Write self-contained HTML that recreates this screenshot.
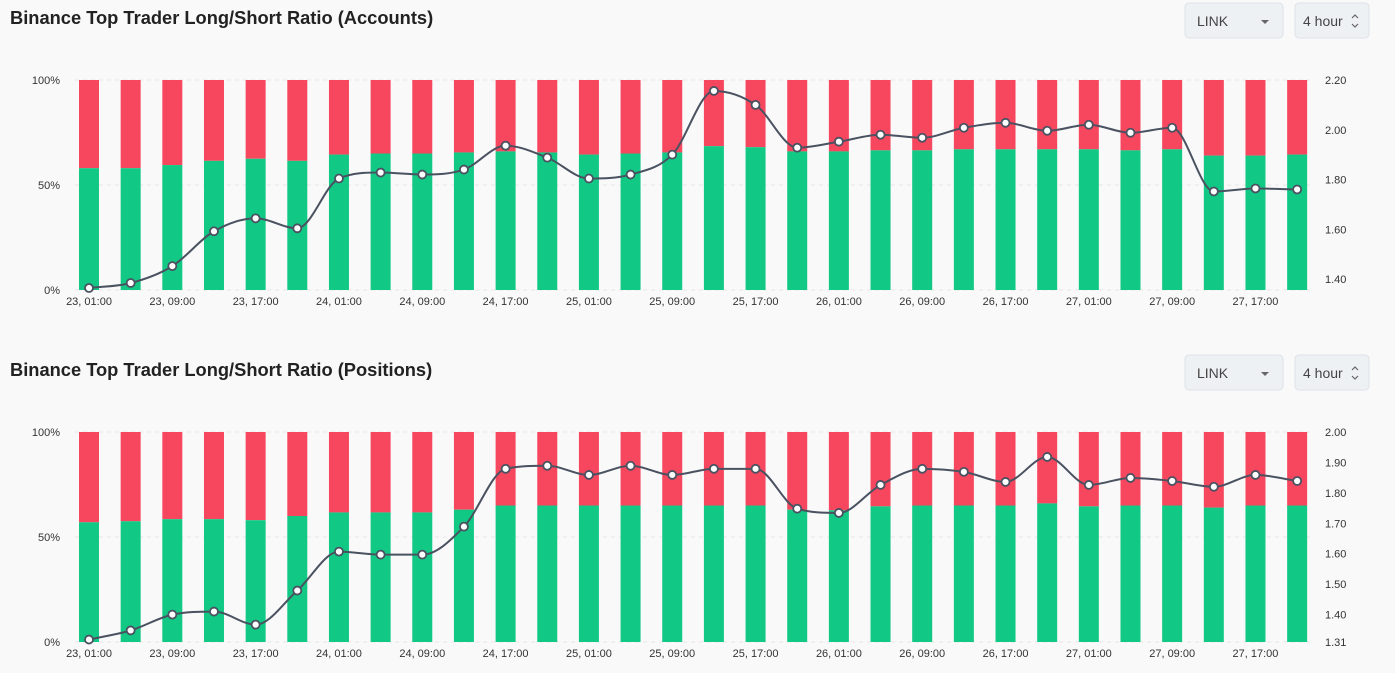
<!DOCTYPE html>
<html><head><meta charset="utf-8"><style>
body{margin:0;background:#f9f9f9;font-family:"Liberation Sans",sans-serif;}
svg{display:block}
</style></head><body>
<svg id="s" width="1395" height="673"></svg>
<script>
const labels=["23, 01:00","23, 09:00","23, 17:00","24, 01:00","24, 09:00","24, 17:00","25, 01:00","25, 09:00","25, 17:00","26, 01:00","26, 09:00","26, 17:00","27, 01:00","27, 09:00","27, 17:00"];
const longA=[0.58,0.58,0.595,0.615,0.625,0.615,0.645,0.65,0.65,0.655,0.66,0.655,0.645,0.65,0.655,0.685,0.68,0.66,0.66,0.665,0.665,0.67,0.67,0.67,0.67,0.665,0.67,0.64,0.64,0.645];
const ratioA=[1.364,1.384,1.452,1.592,1.644,1.604,1.804,1.828,1.82,1.84,1.936,1.888,1.804,1.82,1.90,2.156,2.10,1.928,1.952,1.98,1.968,2.008,2.028,1.996,2.02,1.988,2.008,1.752,1.764,1.76];
const longP=[0.57,0.575,0.585,0.585,0.58,0.60,0.617,0.617,0.617,0.63,0.65,0.65,0.65,0.65,0.65,0.65,0.65,0.63,0.627,0.646,0.65,0.65,0.65,0.66,0.646,0.65,0.65,0.64,0.65,0.65];
const ratioP=[1.318,1.348,1.40,1.41,1.367,1.479,1.607,1.597,1.597,1.689,1.879,1.889,1.859,1.889,1.859,1.879,1.879,1.748,1.734,1.826,1.879,1.869,1.836,1.918,1.826,1.849,1.839,1.82,1.859,1.839];
const ticksA=["2.20","2.00","1.80","1.60","1.40"], tickValsA=[2.2,2.0,1.8,1.6,1.4];
const ticksP=["2.00","1.90","1.80","1.70","1.60","1.50","1.40","1.31"], tickValsP=[2.0,1.9,1.8,1.7,1.6,1.5,1.4,1.31];
const NS="http://www.w3.org/2000/svg",S=document.getElementById('s');
function el(t,a,txt){const e=document.createElementNS(NS,t);for(const k in a)e.setAttribute(k,a[k]);if(txt!=null)e.textContent=txt;S.appendChild(e);return e;}
function monotone(P){
  const n=P.length,dx=[],m=[],t=[];
  for(let i=0;i<n-1;i++){dx[i]=P[i+1][0]-P[i][0];m[i]=(P[i+1][1]-P[i][1])/dx[i];}
  t[0]=m[0];t[n-1]=m[n-2];
  for(let i=1;i<n-1;i++){t[i]=(m[i-1]*m[i]<=0)?0:(m[i-1]+m[i])/2;}
  for(let i=0;i<n-1;i++){if(m[i]===0){t[i]=0;t[i+1]=0;continue;}
    const a=t[i]/m[i],b=t[i+1]/m[i],s=a*a+b*b;if(s>9){const k=3/Math.sqrt(s);t[i]=k*a*m[i];t[i+1]=k*b*m[i];}}
  let d=`M${P[0][0]} ${P[0][1]}`;
  for(let i=0;i<n-1;i++){const h=dx[i]/3;
    d+=`C${P[i][0]+h} ${P[i][1]+t[i]*h} ${P[i+1][0]-h} ${P[i+1][1]-t[i+1]*h} ${P[i+1][0]} ${P[i+1][1]}`;}
  return d;
}
function chart(oy,title,longs,ratios,ticks,tickVals,rmin,rmax,key){
  const t=el('text',{x:10,y:oy+24,'font-size':18.3,'font-weight':'bold',fill:'#222'},title);
  
  const b1=el('rect',{x:1185,y:oy+3,width:98,height:35,rx:4,fill:'#eef1f4',stroke:'#dde3e8'});
  
  el('text',{x:1197,y:oy+26,'font-size':14,fill:'#444'},'LINK');
  el('path',{d:`M1261 ${oy+20}l4 4l4-4z`,fill:'#666'});
  const b2=el('rect',{x:1295,y:oy+3,width:74,height:35,rx:4,fill:'#eef1f4',stroke:'#dde3e8'});
  
  el('text',{x:1303,y:oy+26,'font-size':14,fill:'#444'},'4 hour');
  el('path',{d:`M1352 ${oy+18}l3-3l3 3M1352 ${oy+24}l3 3l3-3`,stroke:'#666',fill:'none','stroke-width':1.2});
  const top=oy+80,bot=oy+290,H=bot-top;
  const X=i=>89+i*41.66;
  const Yr=v=>top+(rmax-v)/(rmax-rmin)*H;
  [[0,'100%'],[0.5,'50%'],[1,'0%']].forEach(([f,l])=>{const y=top+f*H;
    el('line',{x1:75,x2:1310,y1:y,y2:y,stroke:'#e6e6e6','stroke-dasharray':'4 4'});
    el('text',{x:60,y:y+4,'font-size':11,fill:'#333','text-anchor':'end'},l);});
  ticks.forEach((l,i)=>el('text',{x:1325,y:Yr(tickVals[i])+4,'font-size':11,fill:'#333'},l));
  longs.forEach((v,i)=>{const yl=bot-v*H;
    const r=el('rect',{x:X(i)-10,y:top,width:20,height:yl-top,fill:'#f7475f'});
    
    const g=el('rect',{x:X(i)-10,y:yl,width:20,height:bot-yl,fill:'#11c985'});
    });
  labels.forEach((l,i)=>el('text',{x:X(i*2),y:bot+15,'font-size':11,fill:'#333','text-anchor':'middle'},l));
  const P=ratios.map((v,i)=>[X(i),Yr(v)]);
  const ln=el('path',{d:monotone(P),stroke:'#4a5160',fill:'none','stroke-width':2});
  
  P.forEach(p=>{const c=el('circle',{cx:p[0],cy:p[1],r:4,fill:'#fff',stroke:'#4a5160','stroke-width':1.8});
    });
}
chart(0,'Binance Top Trader Long/Short Ratio (Accounts)',longA,ratioA,ticksA,tickValsA,1.356,2.2,'accounts');
chart(352,'Binance Top Trader Long/Short Ratio (Positions)',longP,ratioP,ticksP,tickValsP,1.31,2.0,'positions');
</script></body></html>
